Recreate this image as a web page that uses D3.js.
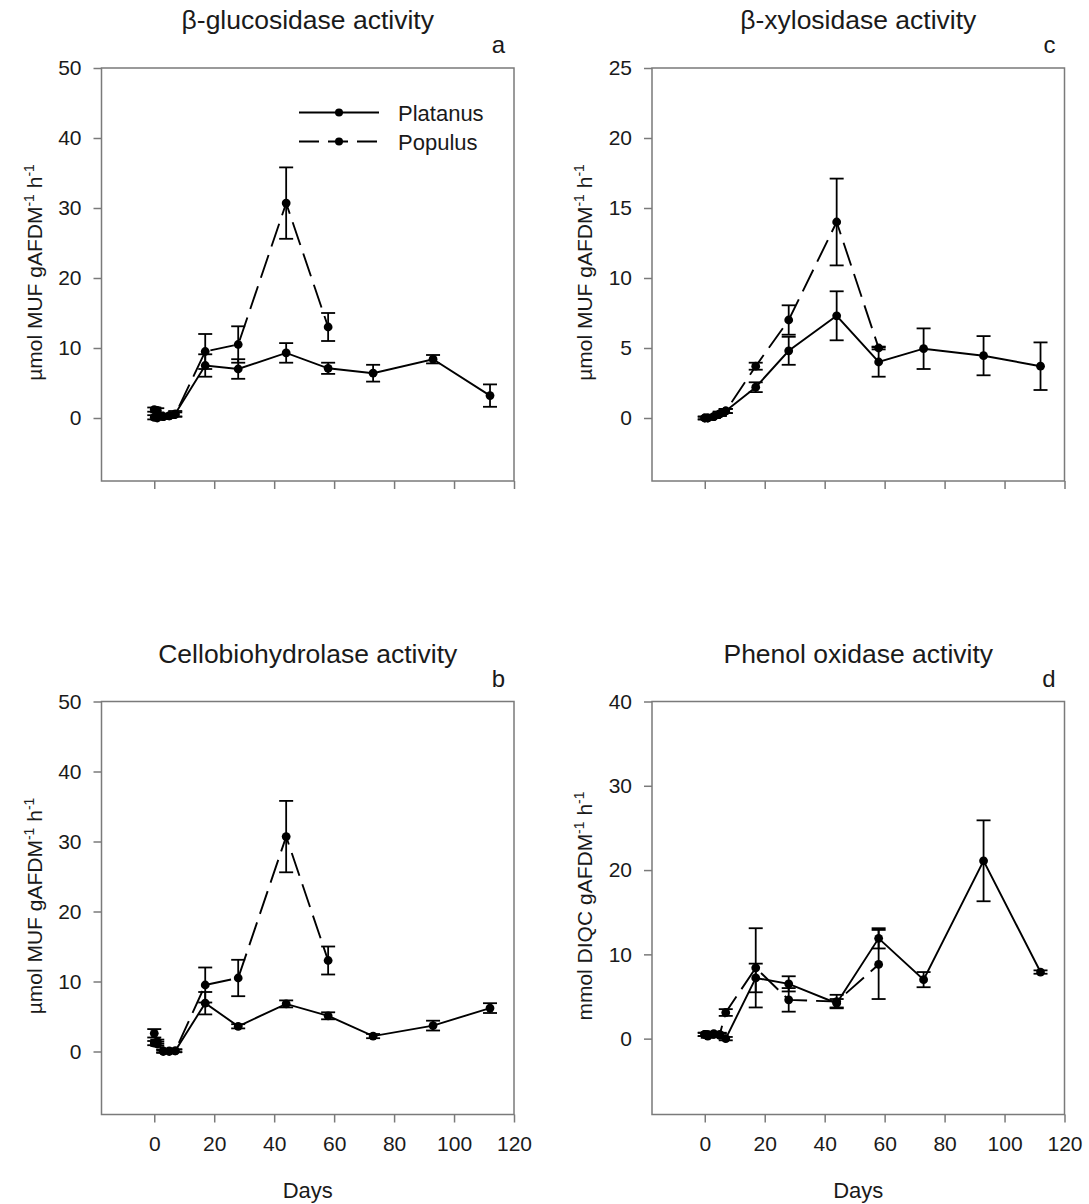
<!DOCTYPE html>
<html>
<head>
<meta charset="utf-8">
<script src="https://cdnjs.cloudflare.com/ajax/libs/d3/7.8.5/d3.min.js"></script>
<style>
  body { margin: 0; background: #fff; }
  text { font-family: Arial, "Liberation Sans", sans-serif; fill: #1a1a1a; }
</style>
</head>
<body>
<script>
// sampling days
var daysPlatanus = [0, 1, 3, 5, 7, 17, 28, 44, 58, 73, 93, 112];
var daysPopulus = [0, 1, 3, 5, 7, 17, 28, 44, 58];

// a: beta-glucosidase
var glucPlatanus   = [0.1, 0.0, 0.2, 0.3, 0.6, 7.5, 7.0, 9.3, 7.1, 6.4, 8.4, 3.2];
var glucPlatanusSE = [0.3, 0.2, 0.3, 0.3, 0.4, 1.6, 1.4, 1.4, 0.8, 1.2, 0.6, 1.6];
var glucPopulus    = [1.2, 1.1, 0.2, 0.3, 0.5, 9.5, 10.5, 30.7, 13.0];
var glucPopulusSE  = [0.3, 0.3, 0.3, 0.3, 0.3, 2.5, 2.6, 5.1, 2.0];

// b: cellobiohydrolase
var cellPlatanus   = [2.6, 1.4, 0.0, 0.0, 0.1, 6.9, 3.6, 6.8, 5.1, 2.2, 3.7, 6.2];
var cellPlatanusSE = [0.6, 0.3, 0.2, 0.2, 0.2, 1.6, 0.3, 0.5, 0.5, 0.3, 0.7, 0.7];
var cellPopulus    = [1.2, 1.1, 0.1, 0.1, 0.1, 9.5, 10.5, 30.7, 13.0];
var cellPopulusSE  = [0.3, 0.3, 0.2, 0.2, 0.2, 2.5, 2.6, 5.1, 2.0];

// c: beta-xylosidase
var xylPlatanus   = [0.0, 0.0, 0.1, 0.3, 0.5, 2.2, 4.8, 7.3, 4.0, 4.95, 4.45, 3.7];
var xylPlatanusSE = [0.1, 0.1, 0.1, 0.15, 0.15, 0.35, 1.0, 1.75, 1.05, 1.45, 1.4, 1.7];
var xylPopulus    = [0.0, 0.0, 0.1, 0.3, 0.5, 3.7, 7.0, 14.0, 5.0];
var xylPopulusSE  = [0.1, 0.1, 0.1, 0.15, 0.15, 0.25, 1.05, 3.1, 0.1];

// d: phenol oxidase
var phenPlatanus   = [0.5, 0.3, 0.5, 0.4, 0.0, 7.2, 6.5, 4.2, 11.9, 7.0, 21.1, 7.9];
var phenPlatanusSE = [0.2, 0.2, 0.3, 0.2, 0.2, 1.7, 0.9, 0.5, 1.2, 0.9, 4.8, 0.2];
var phenPopulus    = [0.5, 0.5, 0.6, 0.5, 3.1, 8.4, 4.6, 4.4, 8.8];
var phenPopulusSE  = [0.2, 0.2, 0.2, 0.2, 0.4, 4.7, 1.4, 0.8, 4.1];

var xTicks = [0, 20, 40, 60, 80, 100, 120];
var yTicks50 = [0, 10, 20, 30, 40, 50];
var yTicks25 = [0, 5, 10, 15, 20, 25];
var yTicks40 = [0, 10, 20, 30, 40];

var panels = [
    {letter: 'a', title: '\u03b2-glucosidase activity', unit: 'µmol MUF', left: 101.5, top: 68,
     yDomain: [-9, 50], yTicks: yTicks50, pla: glucPlatanus, plaSE: glucPlatanusSE, pop: glucPopulus, popSE: glucPopulusSE,
     xLabels: false, legend: true},
    {letter: 'c', title: '\u03b2-xylosidase activity', unit: 'µmol MUF', left: 652, top: 68,
     yDomain: [-4.5, 25], yTicks: yTicks25, pla: xylPlatanus, plaSE: xylPlatanusSE, pop: xylPopulus, popSE: xylPopulusSE,
     xLabels: false},
    {letter: 'b', title: 'Cellobiohydrolase activity', unit: 'µmol MUF', left: 101.5, top: 701.5,
     yDomain: [-9, 50], yTicks: yTicks50, pla: cellPlatanus, plaSE: cellPlatanusSE, pop: cellPopulus, popSE: cellPopulusSE,
     xLabels: true},
    {letter: 'd', title: 'Phenol oxidase activity', unit: 'mmol DIQC', left: 652, top: 701.5,
     yDomain: [-9, 40], yTicks: yTicks40, pla: phenPlatanus, plaSE: phenPlatanusSE, pop: phenPopulus, popSE: phenPopulusSE,
     xLabels: true}
];

var pw = 412.5, ph = 413;
var frameColor = '#7a7a7a';
var dash = '24,9';

var svg = d3.select('body').append('svg')
    .attr('width', 1089)
    .attr('height', 1204);

panels.forEach(function(p) {
    var x = d3.scaleLinear().domain([-17.6, 120]).range([p.left, p.left + pw]);
    var y = d3.scaleLinear().domain(p.yDomain).range([p.top + ph, p.top]);
    var g = svg.append('g');

    // axes
    var xAxis = d3.axisBottom(x).tickValues(xTicks).tickSize(8).tickPadding(14)
        .tickFormat(p.xLabels ? d3.format('d') : function() { return ''; });
    var gx = g.append('g').attr('transform', 'translate(0,' + (p.top + ph) + ')').call(xAxis);
    var yAxis = d3.axisLeft(y).tickValues(p.yTicks).tickSize(8).tickPadding(12);
    var gy = g.append('g').attr('transform', 'translate(' + p.left + ',0)').call(yAxis);
    [gx, gy].forEach(function(ax) {
        ax.select('.domain').remove();
        ax.selectAll('line').attr('stroke', frameColor).attr('stroke-width', 1.5);
        ax.selectAll('text').style('font-size', '21px').attr('fill', '#1a1a1a');
    });

    g.append('rect')
        .attr('x', p.left).attr('y', p.top)
        .attr('width', pw).attr('height', ph)
        .attr('fill', 'none').attr('stroke', frameColor).attr('stroke-width', 1.5);

    // titles
    g.append('text')
        .attr('x', p.left + pw / 2).attr('y', p.top - 39)
        .attr('text-anchor', 'middle').style('font-size', '26.5px')
        .text(p.title);
    g.append('text')
        .attr('x', p.left + pw - 9).attr('y', p.top - 15)
        .attr('text-anchor', 'end').style('font-size', '24px')
        .text(p.letter);

    var yl = g.append('text')
        .attr('transform', 'translate(' + (p.left - 60) + ',' + (p.top + ph / 2 - 2) + ') rotate(-90)')
        .attr('text-anchor', 'middle').style('font-size', '21px');
    yl.append('tspan').text(p.unit + ' gAFDM');
    yl.append('tspan').attr('dy', -8).style('font-size', '14px').text('-1');
    yl.append('tspan').attr('dy', 8).text(' h');
    yl.append('tspan').attr('dy', -8).style('font-size', '14px').text('-1');

    if (p.xLabels) {
        g.append('text')
            .attr('x', p.left + pw / 2).attr('y', 1198)
            .attr('text-anchor', 'middle').style('font-size', '22px')
            .text('Days');
    }

    var series = [
        {days: daysPopulus, vals: p.pop, se: p.popSE, dash: dash},
        {days: daysPlatanus, vals: p.pla, se: p.plaSE, dash: null}
    ];

    var line = d3.line().x(function(d) { return x(d.d); }).y(function(d) { return y(d.v); });

    series.forEach(function(s) {
        var pts = s.days.map(function(d, i) { return {d: d, v: s.vals[i], e: s.se[i]}; });

        g.append('path').datum(pts)
            .attr('d', line)
            .attr('fill', 'none').attr('stroke', '#000').attr('stroke-width', 1.9)
            .attr('stroke-dasharray', s.dash);

        var eb = g.append('g').attr('stroke', '#000').attr('stroke-width', 1.8);
        eb.selectAll('.v').data(pts).enter().append('line')
            .attr('x1', function(d) { return x(d.d); }).attr('x2', function(d) { return x(d.d); })
            .attr('y1', function(d) { return y(d.v - d.e); }).attr('y2', function(d) { return y(d.v + d.e); });
        [1, -1].forEach(function(sg) {
            eb.selectAll('.c' + sg).data(pts).enter().append('line')
                .attr('x1', function(d) { return x(d.d) - 7; }).attr('x2', function(d) { return x(d.d) + 7; })
                .attr('y1', function(d) { return y(d.v + sg * d.e); })
                .attr('y2', function(d) { return y(d.v + sg * d.e); });
        });

        g.selectAll(null).data(pts).enter().append('circle')
            .attr('cx', function(d) { return x(d.d); })
            .attr('cy', function(d) { return y(d.v); })
            .attr('r', 4.4).attr('fill', '#000');
    });

    if (p.legend) {
        var lg = g.append('g');
        var items = [{name: 'Platanus', dash: null, yy: 112.5}, {name: 'Populus', dash: '20,9', yy: 141.5}];
        items.forEach(function(it) {
            lg.append('line')
                .attr('x1', 299).attr('x2', 379).attr('y1', it.yy).attr('y2', it.yy)
                .attr('stroke', '#000').attr('stroke-width', 1.8)
                .attr('stroke-dasharray', it.dash);
            lg.append('circle').attr('cx', 339).attr('cy', it.yy).attr('r', 4).attr('fill', '#000');
            lg.append('text')
                .attr('x', 398).attr('y', it.yy + 8)
                .style('font-size', '22px')
                .text(it.name);
        });
    }
});
</script>
</body>
</html>
